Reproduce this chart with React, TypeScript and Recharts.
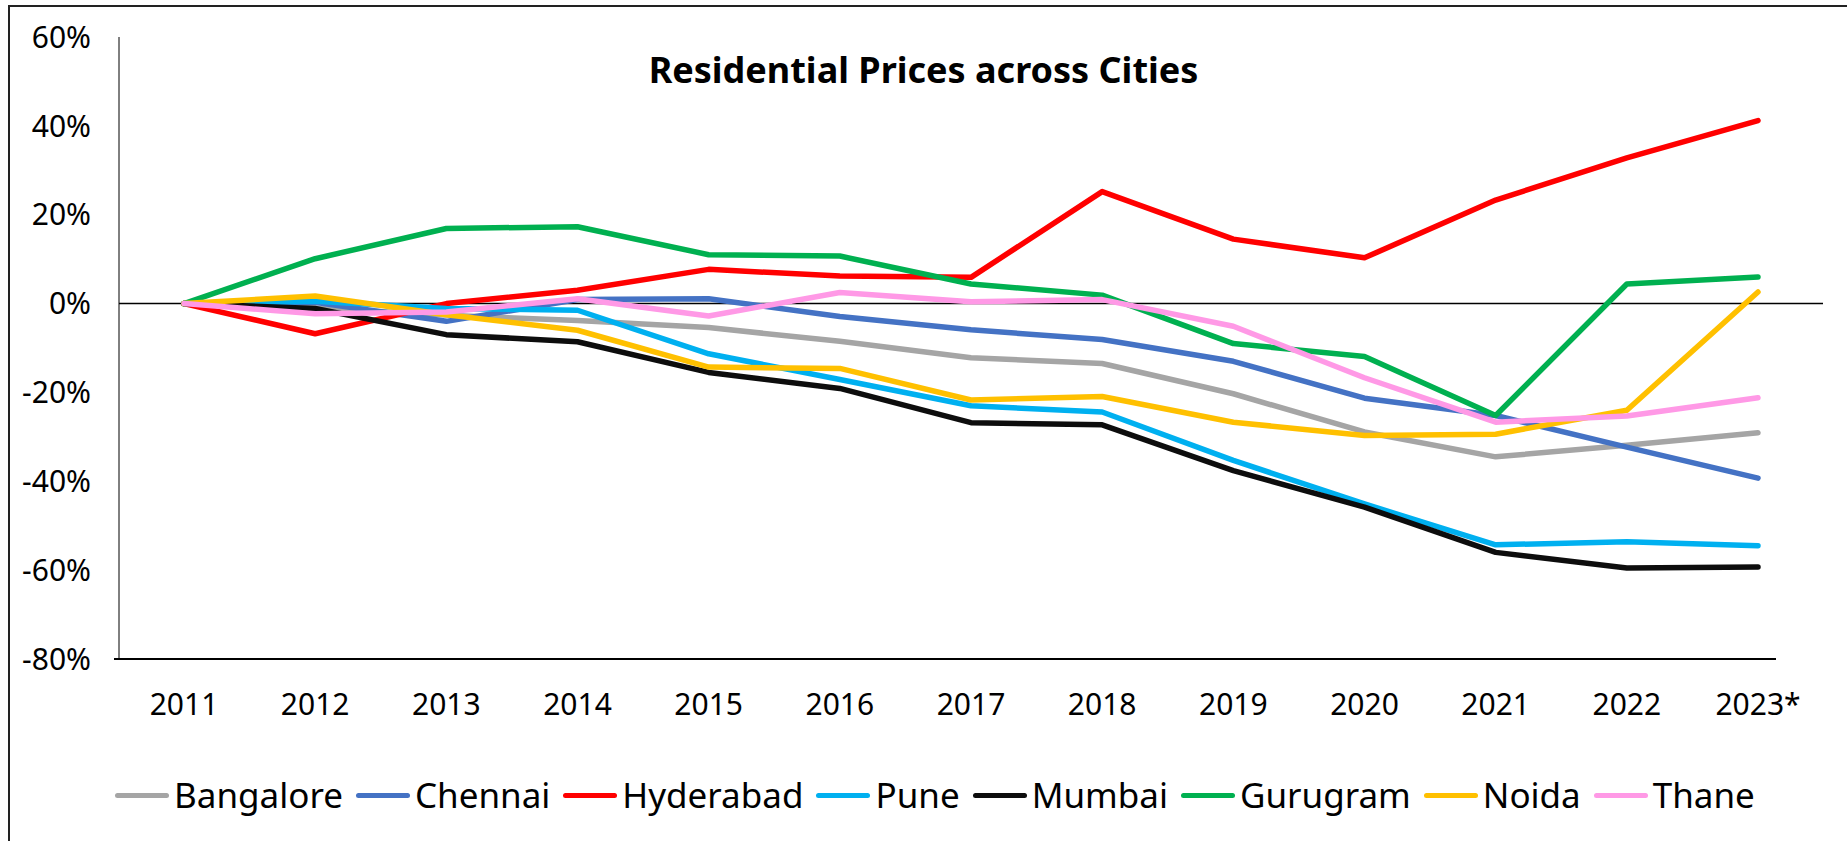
import React from 'react';
import { LineChart, Line, XAxis, YAxis, ReferenceLine } from 'recharts';

const years = ['2011', '2012', '2013', '2014', '2015', '2016', '2017', '2018', '2019', '2020', '2021', '2022', '2023*'];

// % change in residential prices vs 2011
const bangalore = [0, -1.0, -2.6, -3.8, -5.4, -8.5, -12.2, -13.5, -20.3, -28.9, -34.5, -31.9, -29.1];
const chennai = [0, 0.3, -4.0, 0.9, 1.1, -2.9, -5.9, -8.1, -13.0, -21.3, -25.2, -32.3, -39.3];
const hyderabad = [0, -6.8, 0, 3.0, 7.7, 6.2, 5.9, 25.2, 14.5, 10.3, 23.3, 32.8, 41.2];
const pune = [0, 0.5, -1.1, -1.5, -11.3, -17.1, -23.0, -24.4, -35.3, -45.1, -54.3, -53.6, -54.5];
const mumbai = [0, -1.1, -7.0, -8.6, -15.5, -19.1, -26.8, -27.3, -37.6, -45.8, -56.0, -59.5, -59.3];
const gurugram = [0, 10.1, 16.9, 17.3, 11.0, 10.7, 4.4, 1.9, -9.0, -11.9, -25.2, 4.4, 6.0];
const noida = [0, 1.7, -2.5, -6.0, -14.3, -14.6, -21.7, -20.9, -26.7, -29.7, -29.4, -24.0, 2.6];
const thane = [0, -2.3, -1.9, 1.1, -2.8, 2.5, 0.4, 0.9, -5.1, -16.7, -26.7, -25.3, -21.2];

const yTicks = [-80, -60, -40, -20, 0, 20, 40, 60];

const series = [
  { key: 'Bangalore', values: bangalore, color: '#A5A5A5' },
  { key: 'Chennai', values: chennai, color: '#4472C4' },
  { key: 'Hyderabad', values: hyderabad, color: '#FF0000' },
  { key: 'Pune', values: pune, color: '#00B0F0' },
  { key: 'Mumbai', values: mumbai, color: '#0D0D0D' },
  { key: 'Gurugram', values: gurugram, color: '#00B050' },
  { key: 'Noida', values: noida, color: '#FFC000' },
  { key: 'Thane', values: thane, color: '#FF99E6' },
];

const data = years.map((year, i) => {
  const row: Record<string, string | number> = { year };
  series.forEach((s) => {
    row[s.key] = s.values[i];
  });
  return row;
});

const FONT = '"Noto Sans", sans-serif';

// bottom axis line is shorter than the plot area in the original
const BottomAxis = (props: any) => (
  <line x1={props.x1 - 5} y1={props.y1} x2={props.x2 - 47} y2={props.y2} stroke="#000" strokeWidth={2} />
);

export default function App() {
  return (
    <div style={{ position: 'absolute', left: 0, top: 0, width: 1847, height: 841, background: '#fff', fontFamily: FONT, overflow: 'hidden' }}>
      <div
        style={{
          position: 'absolute',
          left: 8,
          top: 5,
          width: 1860,
          height: 860,
          borderLeft: '2px solid #222',
          borderTop: '2px solid #222',
        }}
      />
      <div
        style={{
          position: 'absolute',
          left: 0,
          top: 50,
          width: 1847,
          textAlign: 'center',
          fontSize: 36,
          fontWeight: 700,
          lineHeight: '40px',
          color: '#000',
        }}
      >
        Residential Prices across Cities
      </div>
      <div style={{ position: 'absolute', left: 0, top: 0 }}>
        <LineChart width={1847} height={841} data={data} margin={{ top: 37, right: 24, bottom: 122, left: 0 }}>
          <XAxis
            dataKey="year"
            padding={{ left: 65, right: 65 }}
            axisLine={false}
            tickLine={false}
            tickSize={0}
            tickMargin={35}
            height={60}
            interval={0}
            tick={{ fill: '#000', fontSize: 30, fontFamily: FONT }}
          />
          <YAxis
            type="number"
            domain={[-80, 60]}
            ticks={yTicks}
            tickFormatter={(v: number) => `${v}%`}
            width={119}
            axisLine={{ stroke: '#000', strokeWidth: 1 }}
            tickLine={false}
            tickSize={0}
            tickMargin={28}
            tick={{ fill: '#000', fontSize: 30, fontFamily: FONT }}
          />
          <ReferenceLine y={0} stroke="#000" strokeWidth={1.5} />
          <ReferenceLine y={-80} shape={BottomAxis} />
          {series.map((s) => (
            <Line
              key={s.key}
              type="linear"
              dataKey={s.key}
              stroke={s.color}
              strokeWidth={5.5}
              strokeLinecap="round"
              strokeLinejoin="round"
              dot={false}
              activeDot={false}
              isAnimationActive={false}
            />
          ))}
        </LineChart>
      </div>
      <div
        style={{
          position: 'absolute',
          left: 115,
          top: 774,
          height: 42,
          display: 'flex',
          alignItems: 'center',
          fontSize: 35,
          color: '#000',
        }}
      >
        {series.map((s) => (
          <div key={s.key} style={{ display: 'flex', alignItems: 'center', marginRight: 13 }}>
            <span style={{ display: 'inline-block', width: 54, height: 5, borderRadius: 3, background: s.color, marginRight: 5 }} />
            <span style={{ lineHeight: '42px' }}>{s.key}</span>
          </div>
        ))}
      </div>
    </div>
  );
}
